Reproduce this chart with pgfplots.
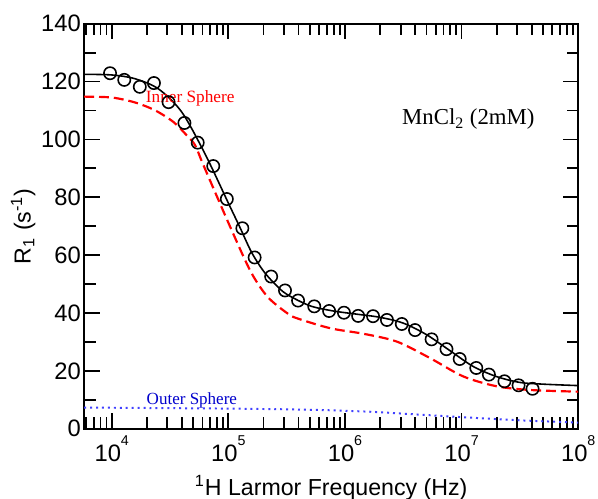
\documentclass[border=0pt]{standalone}
\usepackage{fontspec}
\setmainfont{Liberation Serif}
\newfontfamily\arial{Liberation Sans}
\usepackage{pgfplots}
\pgfplotsset{compat=1.18}

\newcommand{\dec}[1]{10\raisebox{8pt}{\fontsize{7.2}{8}\selectfont #1}}

\begin{document}
\begin{tikzpicture}
\begin{axis}[
  name=ax,
  scale only axis, width=249.5pt, height=204.5pt,
  xmode=log, xmin=5800, xmax=1e8, ymin=0, ymax=140,
  xtick={1e4,1e5,1e6,1e7,1e8},
  xticklabels={\dec{4},\dec{5},\dec{6},\dec{7},\dec{8}},
  minor xtick={6000,7000,8000,9000,20000,30000,40000,50000,60000,70000,80000,90000,
    2e5,3e5,4e5,5e5,6e5,7e5,8e5,9e5,2e6,3e6,4e6,5e6,6e6,7e6,8e6,9e6,
    2e7,3e7,4e7,5e7,6e7,7e7,8e7,9e7},
  ytick={0,20,...,140}, minor y tick num=1,
  major tick length=7.8pt, minor tick length=5.8pt,
  tick style={line width=0.9pt, black},
  axis line style={line width=1.1pt},
  ticklabel style={font=\arial\fontsize{12}{14}\selectfont},
  yticklabel style={xshift=1.8pt},
  /pgf/number format/assume math mode=true,
  label style={font=\arial\fontsize{11.7}{14}\selectfont},
  xlabel={\textsuperscript{1}H Larmor Frequency (Hz)},
  ylabel={R\textsubscript{1} (s\textsuperscript{-1})},
  xlabel style={at={(axis description cs:0.5,-0.1638)}, anchor=base},
  ylabel style={at={(axis description cs:-0.1082,0.5)}, anchor=base},
]
% inner sphere
\addplot[red, line width=1.1pt, dash pattern=on 5pt off 2.5pt, smooth] coordinates {
  (5800,114.8) (10000,114.5) (15800,112.8) (23700,110) (33900,106) (44000,101.4)
  (51900,98) (61000,91.2) (106000,68.9) (157000,54) (218000,45.5) (323000,39.8)
  (393000,38.1) (754000,34.7) (1.45e6,32.8) (2.79e6,30.1) (5.37e6,24.4) (1.03e7,18.1)
  (1.98e7,14.7) (3.8e7,13.4) (1e8,12.8)};
% outer sphere
\addplot[blue!75, line width=1pt, dotted, smooth] coordinates {
  (5800,7.3) (10000,7.25) (31600,7.1) (1e5,6.95) (316000,6.7) (631000,6.45)
  (1e6,6.2) (1.78e6,5.8) (3.16e6,5.2) (5.62e6,4.6) (1e7,4.0) (3.16e7,2.9) (1e8,2.1)};
% total fit
\addplot[black, line width=0.8pt, smooth] coordinates {
  (5800,122.5) (10000,122.3) (15800,121) (25100,117.5) (39800,109.5) (63100,95)
  (100000,78) (126000,69.5) (158000,61) (200000,54.5) (251000,50) (316000,46.5)
  (501000,42.5) (794000,40.7) (1.26e6,39.6) (2e6,38.5) (3.16e6,36.5)
  (5.01e6,32.5) (7.94e6,27) (1.26e7,21.5) (2e7,18) (3.16e7,16) (5.01e7,15.4) (1e8,14.9)};
% data
\addplot[only marks, mark=o, mark size=3.1pt, black, mark options={line width=0.8pt}] coordinates {
  (9670,122.9) (12800,120.6) (17400,118.2) (23000,119.5) (30700,112.9)
  (42000,105.7) (54600,98.9) (74200,90.8) (97000,79.4) (131800,69.3)
  (168000,59.2) (232800,52.6) (306000,47.8) (396000,44.3) (545000,42.3)
  (731000,40.7) (980000,40.1) (1.297e6,39.0) (1.74e6,38.9) (2.29e6,37.6)
  (3.07e6,36.2) (3.99e6,34.1) (5.53e6,30.9) (7.42e6,27.5) (9.63e6,24.1)
  (1.336e7,21.0) (1.714e7,18.7) (2.33e7,16.4) (3.08e7,15.0) (4.06e7,13.8)};
\node[anchor=west, text=red, font=\fontsize{8.7}{10}\selectfont, inner sep=0pt] at (axis cs:19500,114.3) {Inner Sphere};
\node[anchor=west, text=blue!80!black, font=\fontsize{8.6}{10}\selectfont, inner sep=0pt] at (axis cs:19800,9.8) {Outer Sphere};
\node[anchor=west, font=\fontsize{11.5}{13}\selectfont, inner sep=0pt] at (axis cs:3.07e6,107) {MnCl\textsubscript{2} (2mM)};
\end{axis}
\pgfresetboundingbox
\path (ax.south west) ++(-42.5pt,-35.5pt) rectangle ++(302pt,252pt);
\end{tikzpicture}
\end{document}
